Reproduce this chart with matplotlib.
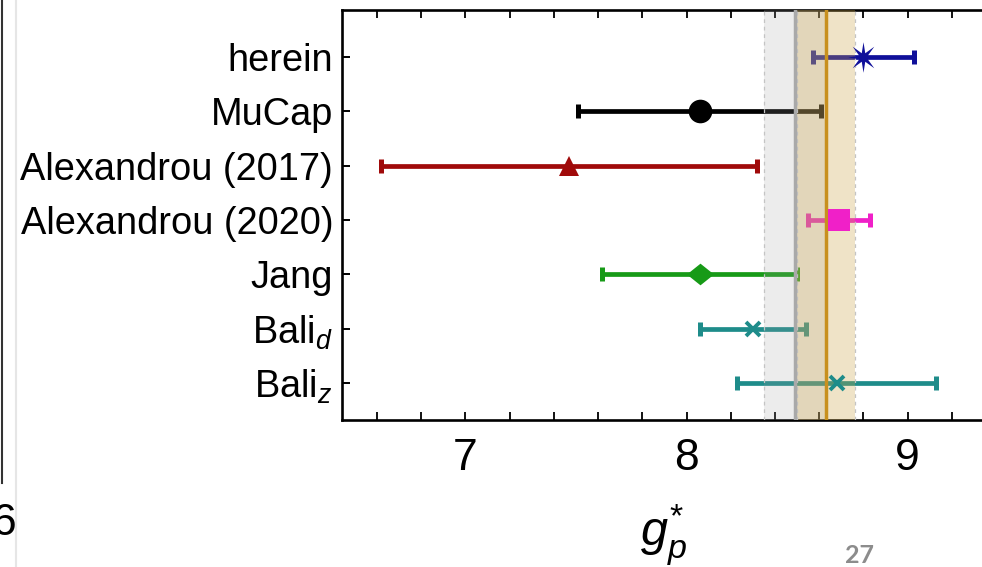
import numpy as np
import matplotlib
matplotlib.use("Agg")
import matplotlib.pyplot as plt
from matplotlib.ticker import FixedLocator, MultipleLocator

plt.rcParams["font.family"] = ["Liberation Sans", "DejaVu Sans"]
plt.rcParams["mathtext.fontset"] = "custom"
plt.rcParams["mathtext.rm"] = "Liberation Sans"
plt.rcParams["mathtext.it"] = "Liberation Sans:italic"

# determinations of g_p*, top to bottom
labels = ["herein", "MuCap", "Alexandrou (2017)", "Alexandrou (2020)",
          "Jang", r"Bali$_d$", r"Bali$_z$"]
values = [8.80, 8.06, 7.47, 8.69, 8.06, 8.30, 8.68]
errors = [0.23, 0.55, 0.85, 0.14, 0.44, 0.24, 0.45]
colors = ["#10109a", "#000000", "#a00a0a", "#f020c8",
          "#179a17", "#1e8c8a", "#1e8c8a"]

# reference bands: centre and half width
band_centers = [8.49, 8.63]
band_halfwidths = [0.14, 0.13]
band_fill = ["#a0a0a0", "#cda547"]
band_alpha = [0.20, 0.30]
band_line = ["#a9a9a9", "#c8901e"]

x_major = [7, 8, 9]
x_tick_labels = ["7", "8", "9"]


def star_marker(points, inner):
    ang = np.pi / 2 + np.arange(2 * points) * np.pi / points
    rad = np.where(np.arange(2 * points) % 2 == 0, 1.0, inner)
    return np.column_stack([rad * np.cos(ang), rad * np.sin(ang)])


diamond = np.array([[-1.0, 0.0], [0.0, 0.8], [1.0, 0.0], [0.0, -0.8]])
markers = [star_marker(8, 0.3), "o", "^", "s", diamond, "x", "x"]
msizes = [22, 17, 15, 16, 19.5, 10, 10]

W, H = 982, 567
fig = plt.figure(figsize=(W / 100, H / 100), dpi=100)

ax_left, ax_right = 341.5, 985.0
ax_top, ax_bottom = 9.5, 420.0
ax = fig.add_axes([ax_left / W, 1 - ax_bottom / H,
                   (ax_right - ax_left) / W, (ax_bottom - ax_top) / H])

n = len(labels)
ypos = np.arange(n, 0, -1)

for y, v, e, c in zip(ypos, values, errors, colors):
    ax.errorbar([v], [y], xerr=[e], fmt="none", ecolor=c, elinewidth=3.4,
                capsize=5.2, capthick=3.6, zorder=2)

for ctr, hw, fc, al, lc in zip(band_centers, band_halfwidths, band_fill,
                               band_alpha, band_line):
    ax.axvspan(ctr - hw, ctr + hw, color=fc, alpha=al, lw=0, zorder=3)
    for edge in (ctr - hw, ctr + hw):
        ax.axvline(edge, color="#c4c4c4", lw=0.9, ls=(0, (3, 3)), zorder=3.5)
    ax.axvline(ctr, color=lc, lw=2.5, zorder=4)

for y, v, c, m, s in zip(ypos, values, colors, markers, msizes):
    mew = 2.8 if isinstance(m, str) and m == "x" else 0
    ax.plot([v], [y], marker=m, ms=s, color=c, mec=c, mew=mew,
            ls="none", zorder=5)

ax.set_xlim(6.44, 8 + (ax_right - 686.5) / 221.2)
ax.set_ylim(0.3235, 7.869)

ax.xaxis.set_major_locator(FixedLocator(x_major))
ax.set_xticklabels(x_tick_labels)
ax.xaxis.set_minor_locator(MultipleLocator(0.2))
ax.set_yticks(ypos)
ax.set_yticklabels(labels)

ax.tick_params(axis="x", which="both", direction="in", top=True, bottom=True,
               length=6, width=1.4, color="#111111")
ax.tick_params(axis="x", which="major", labelsize=32, pad=13)
ax.tick_params(axis="y", which="both", direction="in", left=True, right=False,
               length=6, width=1.4, labelsize=27.4, pad=6)
for side in ("left", "bottom", "top"):
    ax.spines[side].set_linewidth(1.9)
ax.spines["right"].set_visible(False)

ax.set_xlabel(r"$g_p^{*}$", fontsize=35, labelpad=17)

# slide surroundings: neighbouring panel edge and page number
fig.add_artist(plt.Line2D([1.5 / W, 1.5 / W], [1 - 483 / H, 1.0],
                          color="#333333", lw=1.5))
fig.add_artist(plt.Line2D([16 / W, 16 / W], [0, 1.0],
                          color="#e6e6e6", lw=1.5))
fig.text(17 / W, 1 - 535 / H, "6", fontsize=32, ha="right", va="baseline")
fig.text(860 / W, 1 - 563 / H, "27", fontsize=18, fontweight="bold",
         color="#8c8c8c", ha="center", va="baseline",
         family=["Lato", "DejaVu Sans"])

fig.savefig("out.png", dpi=100)
